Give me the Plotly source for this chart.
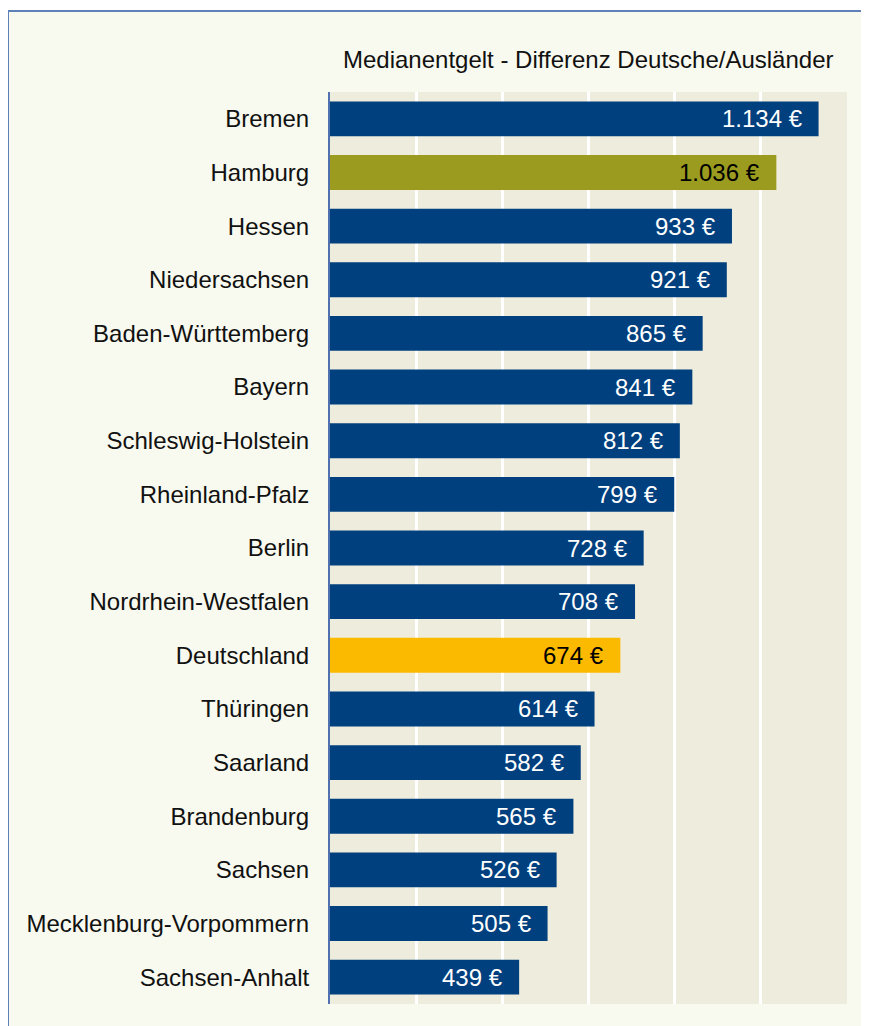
import plotly.graph_objects as go

categories = ["Bremen", "Hamburg", "Hessen", "Niedersachsen", "Baden-Württemberg",
              "Bayern", "Schleswig-Holstein", "Rheinland-Pfalz", "Berlin",
              "Nordrhein-Westfalen", "Deutschland", "Thüringen", "Saarland",
              "Brandenburg", "Sachsen", "Mecklenburg-Vorpommern", "Sachsen-Anhalt"]
values = [1134, 1036, 933, 921, 865, 841, 812, 799, 728, 708, 674, 614, 582, 565, 526, 505, 439]
title_text = "Medianentgelt - Differenz Deutsche/Ausländer"

BLUE = "#00407E"
OLIVE = "#9A9B1F"
YELLOW = "#FBBA00"
special = {"Hamburg": OLIVE, "Deutschland": YELLOW}
colors = [special.get(c, BLUE) for c in categories]
text_colors = ["#000000" if c in special else "#FFFFFF" for c in categories]

FONT = "Liberation Sans, Arial, sans-serif"
OFF = 8  # page body margin
W, H = 869 - OFF, 1026 - OFF
ML = 330 - OFF
MT = 92 - OFF
MR = (OFF + W) - 847
MB = (OFF + H) - 1004
pw = W - ML - MR
ph = H - MT - MB

def px_x(x):
    return (x - OFF - ML) / pw

def px_y(y):
    return (H - MB - (y - OFF)) / ph

fig = go.Figure(go.Bar(
    x=values, y=categories, orientation="h",
    marker=dict(color=colors, line=dict(width=0)),
    hoverinfo="skip",
))

def fmt(v):
    return f"{v:,}".replace(",", ".") + " €"

annotations = [dict(x=v, y=c, xref="x", yref="y", text=fmt(v), showarrow=False,
                    xanchor="right", xshift=-14,
                    font=dict(family=FONT, size=24, color=tc))
               for c, v, tc in zip(categories, values, text_colors)]
annotations.append(dict(x=0.5, y=px_y(60), xref="paper", yref="paper", text=title_text,
                        showarrow=False, xanchor="center", yanchor="middle",
                        font=dict(family=FONT, size=24, color="#111111")))

shapes = [
    dict(type="rect", xref="paper", yref="paper", x0=px_x(8), x1=px_x(869 + 40),
         y0=px_y(1026 + 40), y1=px_y(11), fillcolor="#F8F9EF",
         line=dict(color="#6080B8", width=2), layer="below"),
    dict(type="rect", xref="paper", yref="paper", x0=0, x1=1, y0=0, y1=1,
         fillcolor="#EEECDC", line=dict(width=0), layer="below"),
]

fig.update_layout(
    width=W, height=H,
    margin=dict(l=ML, r=MR, t=MT, b=MB),
    paper_bgcolor="#FFFFFF", plot_bgcolor="#EEECDC",
    showlegend=False, bargap=0.35,
    annotations=annotations, shapes=shapes,
    xaxis=dict(range=[0, 1200], dtick=200, showticklabels=False, showgrid=True,
               gridcolor="#FFFFFF", gridwidth=3, zeroline=False, showline=False,
               fixedrange=True),
    yaxis=dict(autorange="reversed", showgrid=False, showline=True, linecolor="#5070B0",
               linewidth=2, ticks="", ticklabelstandoff=14,
               tickfont=dict(family=FONT, size=24, color="#111111"), fixedrange=True),
)

fig.write_html("out.html")
